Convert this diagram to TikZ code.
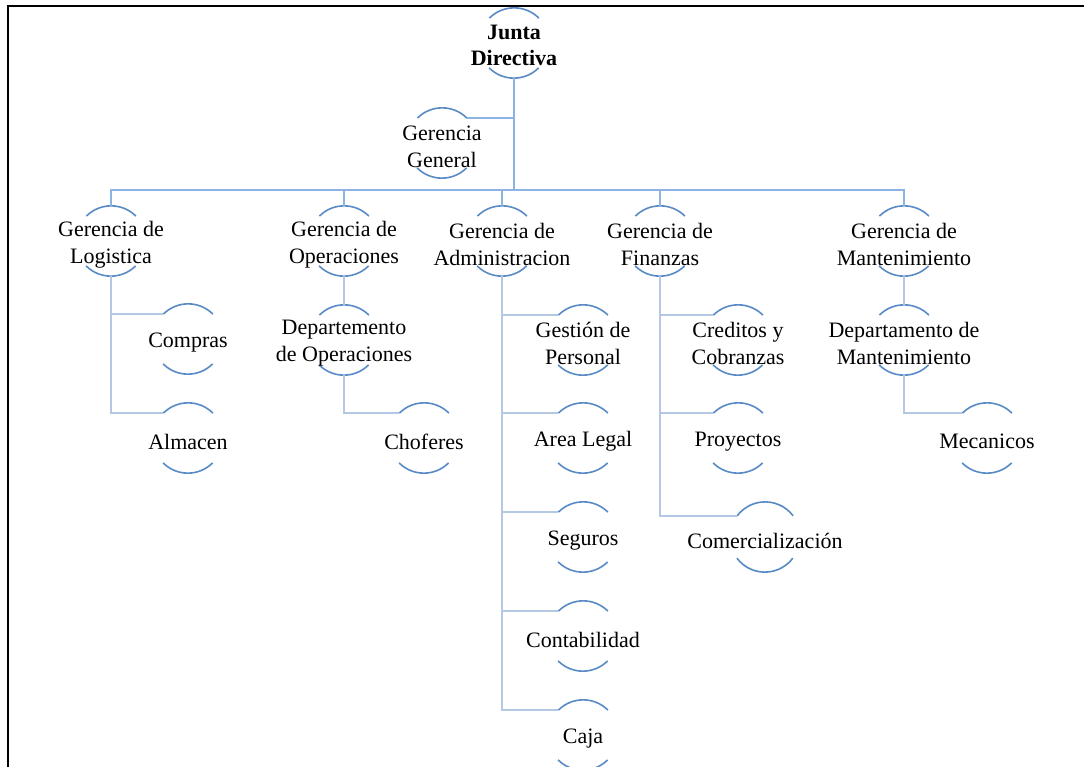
\documentclass[tikz,border=0pt]{standalone}
\usepackage{fontspec}
\setmainfont{Liberation Serif}
\definecolor{arcblue}{RGB}{88,138,198}
\definecolor{connmain}{RGB}{141,179,226}
\definecolor{connsub}{RGB}{180,200,228}
\begin{document}
\begin{tikzpicture}[x=1pt,y=1pt]
\tikzset{
  pc/.style={circle, minimum size=70pt, inner sep=0pt},
  lbl/.style={align=center, font=\fontsize{22}{27}\selectfont, inner sep=0pt, yshift=-3.5pt},
  arcs/.style={draw=arcblue, line width=1.6pt},
  conn/.style={draw=connmain, line width=2pt},
  conn2/.style={draw=connsub, line width=2pt},
  frame/.style={draw=black, line width=2.2pt}
}
\useasboundingbox (0,0) rectangle (1084,-767);
\fill[white] (0,0) rectangle (1084,-767);
% frame
\draw[frame] (1084,-6) -- (8,-6) -- (8,-767);

% nodes (circles)
\node[pc] (jd) at (514,-43) {};
\node[pc] (gg) at (442,-143) {};
\node[pc] (gl) at (111,-241) {};
\node[pc] (go) at (344,-241) {};
\node[pc] (ga) at (502,-241) {};
\node[pc] (gf) at (660,-241) {};
\node[pc] (gm) at (904,-241) {};
\node[pc] (co) at (188,-339) {};
\node[pc] (al) at (188,-438) {};
\node[pc] (dop) at (344,-340) {};
\node[pc] (ch) at (424,-438) {};
\node[pc] (gp) at (583,-340) {};
\node[pc] (le) at (583,-438) {};
\node[pc] (se) at (583,-537) {};
\node[pc] (cn) at (583,-636) {};
\node[pc] (cj) at (583,-735) {};
\node[pc] (cc) at (738,-340) {};
\node[pc] (pr) at (738,-438) {};
\node[pc] (cm) at (765,-537) {};
\node[pc] (dm) at (904,-340) {};
\node[pc] (me) at (987,-438) {};

% arcs
\foreach \n in {jd,gg,gl,go,ga,gf,gm,co,al,dop,ch,gp,le,se,cn,cj,cc,pr,dm,me}{
  \draw[arcs] (\n.45) arc[start angle=45,end angle=135,radius=35pt];
  \draw[arcs] (\n.225) arc[start angle=225,end angle=315,radius=35pt];
}
\draw[arcs] (cm.37) arc[start angle=37,end angle=143,radius=35pt];
\draw[arcs] (cm.217) arc[start angle=217,end angle=323,radius=35pt];

% connectors
\coordinate (bar) at (0,-190);
\draw[conn] (jd.south) -- (jd.south |- bar);
\draw[conn] (gg.45) -- (gg.45 -| jd.south);
\draw[conn] (gl.north) |- (gm.north |- bar) -- (gm.north);
\foreach \n in {go,ga,gf} \draw[conn] (\n.north) -- (\n.north |- bar);

\draw[conn2] (gl.south) |- (co.135);
\draw[conn2] (gl.south) |- (al.135);
\draw[conn2] (go.south) -- (dop.north);
\draw[conn2] (dop.south) |- (ch.135);
\foreach \n in {gp,le,se,cn,cj} \draw[conn2] (ga.south) |- (\n.135);
\draw[conn2] (gf.south) |- (cc.135);
\draw[conn2] (gf.south) |- (pr.135);
\draw[conn2] (gf.south) |- (cm.143);
\draw[conn2] (gm.south) -- (dm.north);
\draw[conn2] (dm.south) |- (me.135);

% labels
\node[lbl, yshift=1.5pt, font=\fontsize{22}{26}\selectfont\bfseries] (jdt) at (jd) {Junta\\Directiva};
\node[lbl] (ggt) at (gg) {Gerencia\\General};
\node[lbl] (glt) at (gl) {Gerencia de\\Logistica};
\node[lbl] (got) at (go) {Gerencia de\\Operaciones};
\node[lbl] (gat) at (ga) {Gerencia de\\Administracion};
\node[lbl] (gft) at (gf) {Gerencia de\\Finanzas};
\node[lbl] (gmt) at (gm) {Gerencia de\\Mantenimiento};
\node[lbl] (cot) at (co) {Compras};
\node[lbl] (alt) at (al) {Almacen};
\node[lbl] (dopt) at (dop) {Departemento\\de Operaciones};
\node[lbl] (cht) at (ch) {Choferes};
\node[lbl] (gpt) at (gp) {Gestión de\\Personal};
\node[lbl] (let) at (le) {Area Legal};
\node[lbl] (set) at (se) {Seguros};
\node[lbl] (cnt) at (cn) {Contabilidad};
\node[lbl] (cjt) at (cj) {Caja};
\node[lbl] (cct) at (cc) {Creditos y\\Cobranzas};
\node[lbl] (prt) at (pr) {Proyectos};
\node[lbl] (cmt) at (cm) {Comercialización};
\node[lbl] (dmt) at (dm) {Departamento de\\Mantenimiento};
\node[lbl] (met) at (me) {Mecanicos};
\end{tikzpicture}
\end{document}
